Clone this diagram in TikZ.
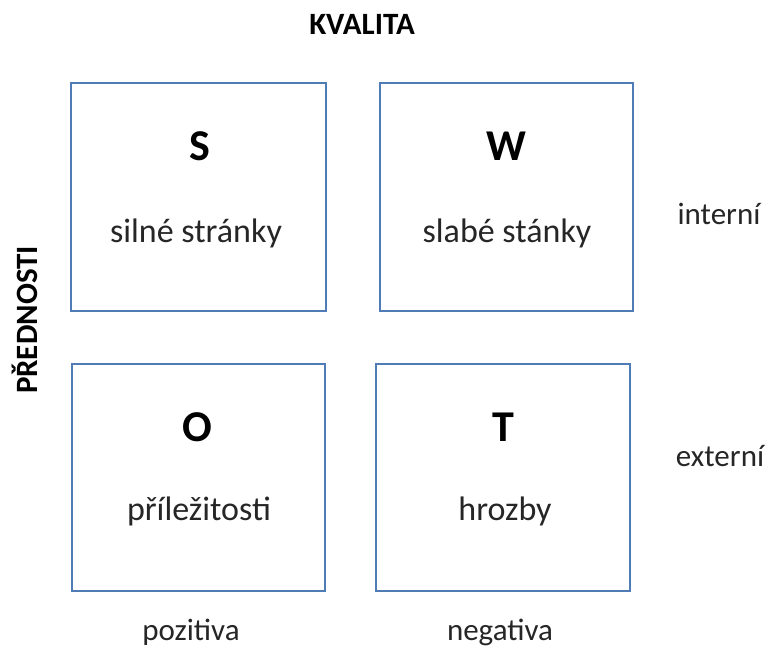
\documentclass[tikz,border=0pt]{standalone}
\usepackage{fontspec}
\setmainfont{Carlito}
\definecolor{boxblue}{RGB}{79,124,180}
\begin{document}
\begin{tikzpicture}[x=1pt,y=-1pt,
  quad/.style={draw=boxblue,line width=2pt,rectangle,inner sep=0pt},
  letter/.style={anchor=base,font=\fontsize{44}{50}\selectfont\bfseries,inner sep=0pt},
  word/.style={anchor=base,font=\fontsize{34}{40}\selectfont,text=black!85,inner sep=0pt},
  side/.style={anchor=base,font=\fontsize{31}{36}\selectfont,text=black!85,inner sep=0pt},
  axis/.style={font=\fontsize{31}{36}\selectfont\bfseries,inner sep=0pt}]
\useasboundingbox (0,0) rectangle (770,650);
\fill[white] (0,0) rectangle (770,650);
% boxes
\node[quad,minimum width=255pt,minimum height=228pt] (Sbox) at (198.5,197) {};
\node[quad,minimum width=253pt,minimum height=228pt] (Wbox) at (506.5,197) {};
\node[quad,minimum width=253pt,minimum height=227pt] (Obox) at (198.5,477.5) {};
\node[quad,minimum width=254pt,minimum height=227pt] (Tbox) at (502.5,477.5) {};
% letters
\node[letter] (S) at (200,160) {S};
\node[letter] (W) at (506,160) {W};
\node[letter] (O) at (197,441) {O};
\node[letter] (T) at (503,441) {T};
% words
\node[word] (s1) at (196,242) {silné stránky};
\node[word] (w1) at (507,242) {slabé stánky};
\node[word] (o1) at (199,520) {příležitosti};
\node[word] (t1) at (505,520) {hrozby};
% side labels
\node[side] (int) at (719,224) {interní};
\node[side] (ext) at (720,466) {externí};
\node[side] (poz) at (191,640) {pozitiva};
\node[side] (neg) at (500,640) {negativa};
% axis titles
\node[axis,anchor=base] (kval) at (362,35) {KVALITA};
\node[axis,rotate=90,anchor=base] (pred) at (37,320) {PŘEDNOSTI};
\end{tikzpicture}
\end{document}
